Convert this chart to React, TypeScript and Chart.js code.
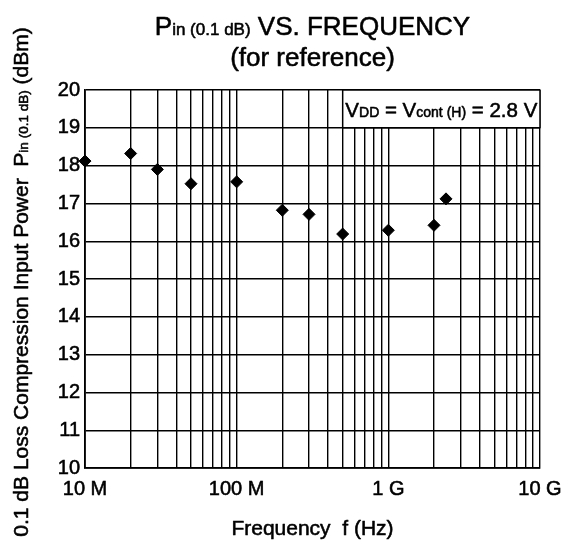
import React, { useEffect, useRef } from "react";
import { Chart, registerables } from "chart.js";

Chart.register(...registerables);

// ---- data ----
const frequenciesHz = [1e7, 2e7, 3e7, 5e7, 1e8, 2e8, 3e8, 5e8, 1e9, 2e9, 2.4e9];
const pinDbm = [18.12, 18.32, 17.9, 17.52, 17.57, 16.82, 16.71, 16.19, 16.29, 16.42, 17.12];

const xMajorValues = [1e7, 1e8, 1e9, 1e10];
const xMajorLabels = ["10 M", "100 M", "1 G", "10 G"];
const xMultipliers = [1, 2, 3, 4, 5, 6, 7, 8, 9];
const yMin = 10;
const yMax = 20;

const FONT = '"Liberation Sans", Arial, Helvetica, sans-serif';
const STROKE = 0.55;

type Seg = { t: string; small?: boolean };

function drawRich(
  ctx: CanvasRenderingContext2D,
  segs: Seg[],
  x: number,
  y: number,
  align: "left" | "center" | "right",
  size: number,
  smallSize: number
) {
  let total = 0;
  const widths = segs.map((s) => {
    ctx.font = `${s.small ? smallSize : size}px ${FONT}`;
    const w = ctx.measureText(s.t).width;
    total += w;
    return w;
  });
  let cx = align === "center" ? x - total / 2 : align === "right" ? x - total : x;
  ctx.textAlign = "left";
  ctx.textBaseline = "alphabetic";
  ctx.lineWidth = STROKE;
  ctx.strokeStyle = "#000";
  ctx.lineJoin = "round";
  segs.forEach((s, i) => {
    ctx.font = `${s.small ? smallSize : size}px ${FONT}`;
    ctx.fillText(s.t, cx, y);
    ctx.strokeText(s.t, cx, y);
    cx += widths[i];
  });
}

const textPlugin = {
  id: "textPlugin",
  afterDraw(chart: any) {
    const ctx: CanvasRenderingContext2D = chart.ctx;
    const area = chart.chartArea;
    const xs = chart.scales.x;
    const ys = chart.scales.y;
    const cx = (area.left + area.right) / 2;
    ctx.save();
    ctx.fillStyle = "#000";

    // title
    drawRich(
      ctx,
      [{ t: "P" }, { t: "in (0.1 dB)", small: true }, { t: " VS. FREQUENCY" }],
      cx,
      35,
      "center",
      26,
      17
    );
    drawRich(ctx, [{ t: "(for reference)" }], cx, 66, "center", 26, 17);

    // x-axis title
    drawRich(ctx, [{ t: "Frequency  f (Hz)" }], cx, 535, "center", 21, 14);

    // y-axis title
    ctx.save();
    ctx.translate(28, 282);
    ctx.rotate(-Math.PI / 2);
    drawRich(
      ctx,
      [
        { t: "0.1 dB Loss Compression Input Power  P" },
        { t: "in (0.1 dB)", small: true },
        { t: " (dBm)" },
      ],
      0,
      0,
      "center",
      21,
      13.5
    );
    ctx.restore();

    // condition box
    const bx = xs.getPixelForValue(5e8);
    const by = ys.getPixelForValue(19);
    ctx.fillStyle = "#fff";
    ctx.fillRect(bx, area.top, area.right - bx, by - area.top);
    ctx.strokeStyle = "#000";
    ctx.lineWidth = 1.5;
    ctx.strokeRect(bx, area.top, area.right - bx, by - area.top);
    ctx.fillStyle = "#000";
    drawRich(
      ctx,
      [
        { t: "V" },
        { t: "DD", small: true },
        { t: " = V" },
        { t: "cont (H)", small: true },
        { t: " = 2.8 V" },
      ],
      (bx + area.right) / 2,
      (area.top + by) / 2 + 8,
      "center",
      20.5,
      14
    );
    ctx.restore();
  },
};

export default function App() {
  const ref = useRef<HTMLCanvasElement | null>(null);

  useEffect(() => {
    if (!ref.current) return;
    const gridValues: number[] = [];
    for (let d = 0; d < xMajorValues.length - 1; d++) {
      for (const m of xMultipliers) gridValues.push(xMajorValues[d] * m);
    }
    gridValues.push(xMajorValues[xMajorValues.length - 1]);

    const chart = new Chart(ref.current, {
      type: "scatter",
      data: {
        datasets: [
          {
            data: frequenciesHz.map((f, i) => ({ x: f, y: pinDbm[i] })),
            pointStyle: "rectRot",
            pointRadius: 6,
            pointHoverRadius: 6,
            backgroundColor: "#000",
            borderColor: "#000",
            borderWidth: 1,
            showLine: false,
            clip: false as any,
          },
        ],
      },
      plugins: [textPlugin],
      options: {
        animation: false,
        responsive: false,
        devicePixelRatio: 1,
        events: [],
        layout: { padding: { top: 90, right: 35, left: 0, bottom: 0 } },
        plugins: {
          legend: { display: false },
          tooltip: { enabled: false },
          title: { display: false },
        },
        scales: {
          x: {
            type: "logarithmic",
            min: xMajorValues[0],
            max: xMajorValues[xMajorValues.length - 1],
            afterBuildTicks: (scale: any) => {
              scale.ticks = gridValues.map((v) => ({ value: v }));
            },
            afterFit: (scale: any) => {
              scale.height = 72;
            },
            ticks: {
              autoSkip: false,
              maxRotation: 0,
              minRotation: 0,
              padding: 9,
              color: "#000",
              textStrokeColor: "#000",
              textStrokeWidth: STROKE,
              font: { family: FONT, size: 20 },
              callback: (value: any) => {
                const idx = xMajorValues.findIndex(
                  (v) => Math.abs(v - Number(value)) / v < 1e-6
                );
                return idx >= 0 ? xMajorLabels[idx] : "";
              },
            },
            grid: { color: "#000", lineWidth: 1.4, drawTicks: false },
            border: { display: true, color: "#000", width: 1.8 },
          },
          y: {
            type: "linear",
            min: yMin,
            max: yMax,
            afterFit: (scale: any) => {
              scale.width = 85;
            },
            ticks: {
              stepSize: 1,
              padding: 5,
              color: "#000",
              textStrokeColor: "#000",
              textStrokeWidth: STROKE,
              font: { family: FONT, size: 20 },
            },
            grid: { color: "#000", lineWidth: 1.4, drawTicks: false },
            border: { display: true, color: "#000", width: 1.8 },
          },
        },
      } as any,
    });
    return () => chart.destroy();
  }, []);

  return (
    <div style={{ position: "absolute", left: 0, top: 0, width: 575, height: 540, background: "#fff" }}>
      <canvas ref={ref} width={575} height={540} />
    </div>
  );
}
